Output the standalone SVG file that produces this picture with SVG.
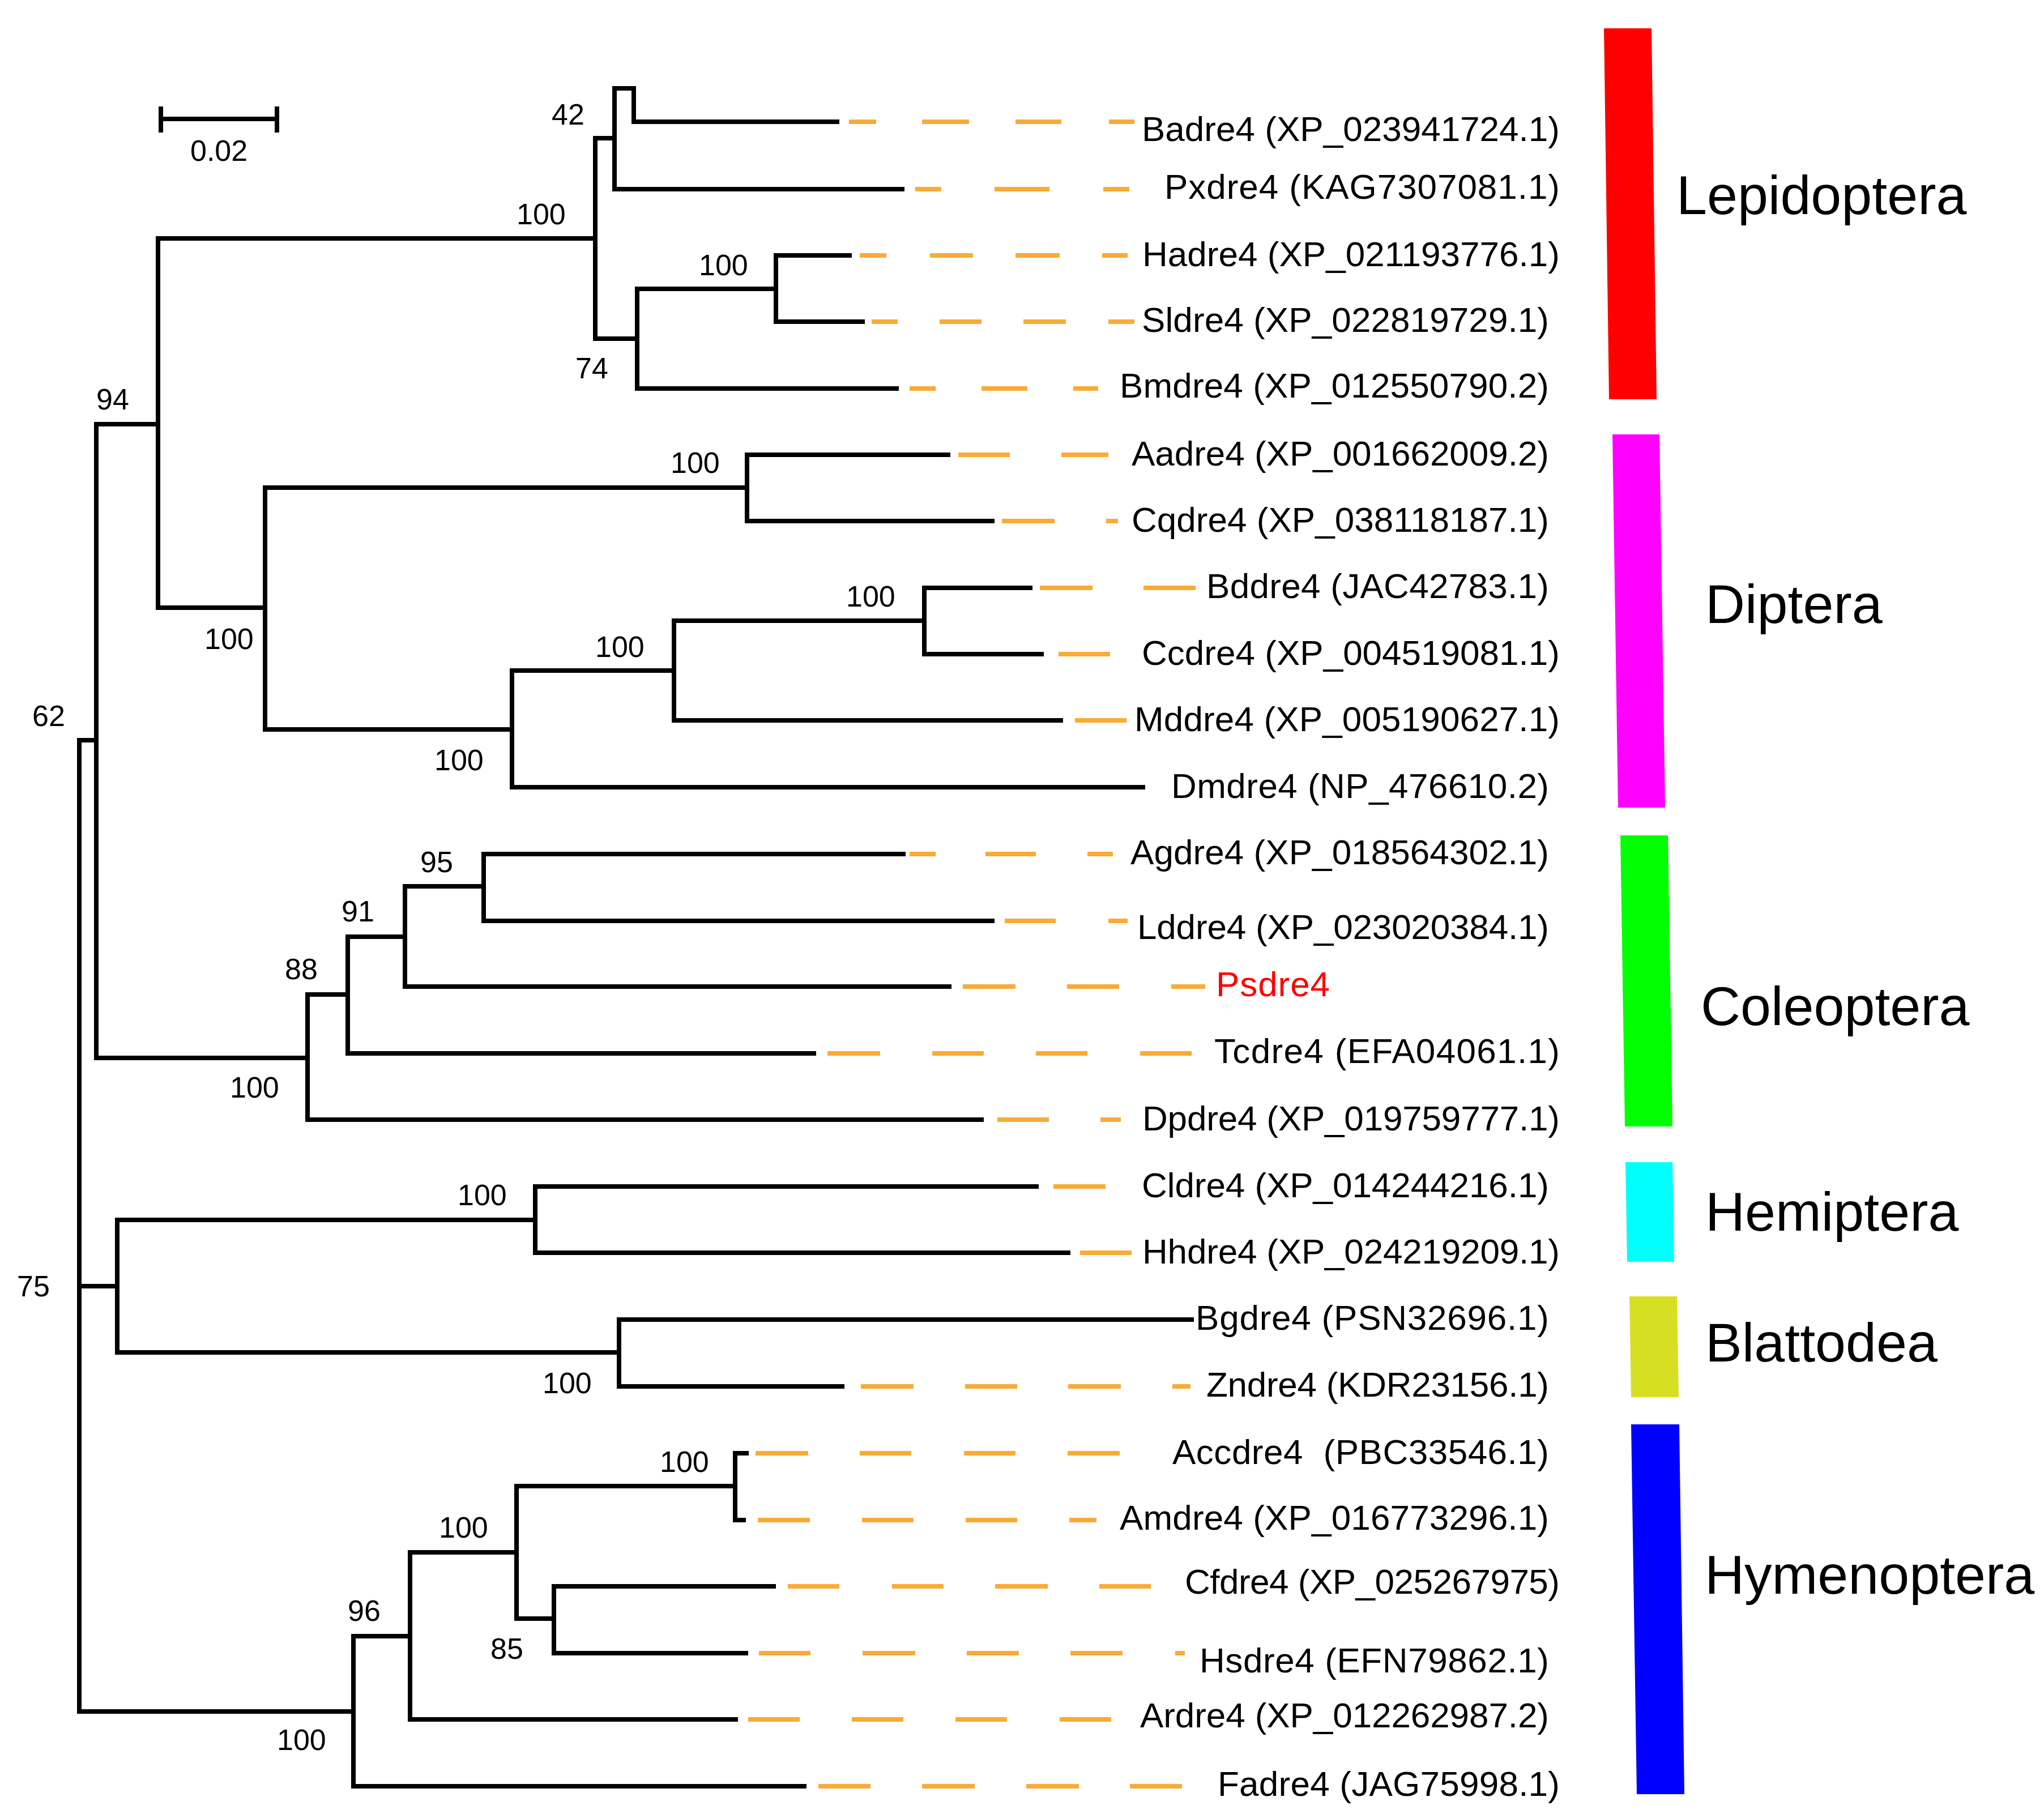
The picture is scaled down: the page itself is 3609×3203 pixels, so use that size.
<svg xmlns="http://www.w3.org/2000/svg" width="3609" height="3203" viewBox="0 0 3609 3203">
<style>
.br{fill:none;stroke:#000;stroke-width:8;stroke-linejoin:miter;stroke-linecap:butt}
.dash{stroke:#F9AB36;stroke-width:8;stroke-linecap:butt}
.leaf{font-family:"Liberation Sans",Arial,sans-serif;font-size:62px;fill:#000}
.num{font-family:"Liberation Sans",Arial,sans-serif;font-size:52px;fill:#000}
.ord{font-family:"Liberation Sans",Arial,sans-serif;font-size:97px;fill:#000}
</style>
<rect width="3609" height="3203" fill="#fff"/>
<g id="connectors">
<g id="branches" class="br">
<path d="M284 210 H489 M284 188 V234 M489 188 V234"/>
<path d="M170 1307 H140 V3022 H624"/>
<path d="M140 2271 H207"/>
<path d="M279 749 H170 V1868 H543"/>
<path d="M1051 421 H279 V1073 H468"/>
<path d="M1085 244 H1051 V598 H1125"/>
<path d="M1597 334 H1085 V156 H1119 V215 H1482"/>
<path d="M1370 510 H1125 V686 H1587"/>
<path d="M1504 451 H1370 V568 H1527"/>
<path d="M1319 861 H468 V1288 H904"/>
<path d="M1678 803 H1319 V920 H1756"/>
<path d="M1190 1184 H904 V1390 H2022"/>
<path d="M1632 1096 H1190 V1272 H1877"/>
<path d="M1823 1038 H1632 V1155 H1843"/>
<path d="M614 1756 H543 V1977 H1737"/>
<path d="M715 1654 H614 V1860 H1441"/>
<path d="M854 1565 H715 V1742 H1680"/>
<path d="M1599 1508 H854 V1626 H1756"/>
<path d="M945 2154 H207 V2388 H1093"/>
<path d="M1834 2095 H945 V2212 H1890"/>
<path d="M2108 2330 H1093 V2448 H1491"/>
<path d="M724 2889 H624 V3154 H1424"/>
<path d="M912 2741 H724 V3036 H1303"/>
<path d="M1298 2624 H912 V2858 H978"/>
<path d="M1322 2566 H1298 V2684 H1317"/>
<path d="M1370 2801 H978 V2919 H1321"/>
</g>
<g id="dashes" class="dash">
<path d="M1499 215 H1547 M1628 215 H1711 M1793 215 H1874 M1958 215 H2003"/>
<path d="M1616 334 H1662 M1756 334 H1853 M1948 334 H1994"/>
<path d="M1518 451 H1565 M1642 451 H1718 M1793 451 H1871 M1946 451 H1991"/>
<path d="M1539 568 H1585 M1659 568 H1733 M1807 568 H1882 M1957 568 H2003"/>
<path d="M1606 686 H1652 M1733 686 H1814 M1895 686 H1939"/>
<path d="M1692 803 H1783 M1874 803 H1957"/>
<path d="M1769 920 H1862 M1953 920 H1974"/>
<path d="M1836 1038 H1929 M2019 1038 H2111"/>
<path d="M1869 1155 H1960"/>
<path d="M1898 1272 H1989"/>
<path d="M1606 1508 H1652 M1740 1508 H1829 M1920 1508 H1965"/>
<path d="M1774 1626 H1864 M1957 1626 H1991"/>
<path d="M1700 1742 H1793 M1884 1742 H1976 M2068 1742 H2128"/>
<path d="M1461 1860 H1554 M1646 1860 H1737 M1829 1860 H1920 M2013 1860 H2104"/>
<path d="M1761 1977 H1852 M1943 1977 H1979"/>
<path d="M1860 2095 H1952"/>
<path d="M1907 2212 H1998"/>
<path d="M1520 2448 H1613 M1704 2448 H1796 M1886 2448 H1979 M2070 2448 H2102"/>
<path d="M1334 2566 H1427 M1518 2566 H1609 M1702 2566 H1793 M1885 2566 H1977"/>
<path d="M1338 2684 H1430 M1522 2684 H1613 M1705 2684 H1796 M1888 2684 H1936"/>
<path d="M1391 2801 H1482 M1575 2801 H1666 M1757 2801 H1850 M1941 2801 H2032"/>
<path d="M1340 2919 H1431 M1523 2919 H1616 M1707 2919 H1799 M1890 2919 H1982 M2075 2919 H2092"/>
<path d="M1321 3036 H1412 M1504 3036 H1595 M1687 3036 H1778 M1871 3036 H1962"/>
<path d="M1445 3154 H1537 M1628 3154 H1721 M1812 3154 H1905 M1995 3154 H2087"/>
</g>
</g>
<g id="support-labels" class="num">
<text x="336" y="284">0.02</text>
<text x="974" y="220">42</text>
<text x="912" y="396">100</text>
<text x="1234" y="486">100</text>
<text x="1016" y="668">74</text>
<text x="170" y="723">94</text>
<text x="1184" y="835">100</text>
<text x="361" y="1146">100</text>
<text x="1494" y="1071">100</text>
<text x="1051" y="1160">100</text>
<text x="767" y="1360">100</text>
<text x="57" y="1282">62</text>
<text x="742" y="1540">95</text>
<text x="603" y="1627">91</text>
<text x="503" y="1729">88</text>
<text x="406" y="1938">100</text>
<text x="808" y="2128">100</text>
<text x="30" y="2289">75</text>
<text x="958" y="2460">100</text>
<text x="1165" y="2599">100</text>
<text x="775" y="2715">100</text>
<text x="614" y="2862">96</text>
<text x="866" y="2929">85</text>
<text x="489" y="3090">100</text>
</g>
<g id="leaf-Badre4"><text class="leaf" x="2016" y="249" textLength="738">Badre4 (XP_023941724.1)</text></g>
<g id="leaf-Pxdre4"><text class="leaf" x="2056" y="351" textLength="698">Pxdre4 (KAG7307081.1)</text></g>
<g id="leaf-Hadre4"><text class="leaf" x="2017" y="470" textLength="737">Hadre4 (XP_021193776.1)</text></g>
<g id="leaf-Sldre4"><text class="leaf" x="2016" y="586" textLength="719">Sldre4 (XP_022819729.1)</text></g>
<g id="leaf-Bmdre4"><text class="leaf" x="1977" y="702" textLength="758">Bmdre4 (XP_012550790.2)</text></g>
<g id="leaf-Aadre4"><text class="leaf" x="1998" y="822" textLength="737">Aadre4 (XP_001662009.2)</text></g>
<g id="leaf-Cqdre4"><text class="leaf" x="1998" y="939" textLength="737">Cqdre4 (XP_038118187.1)</text></g>
<g id="leaf-Bddre4"><text class="leaf" x="2130" y="1056" textLength="605">Bddre4 (JAC42783.1)</text></g>
<g id="leaf-Ccdre4"><text class="leaf" x="2016" y="1174" textLength="738">Ccdre4 (XP_004519081.1)</text></g>
<g id="leaf-Mddre4"><text class="leaf" x="2003" y="1291" textLength="751">Mddre4 (XP_005190627.1)</text></g>
<g id="leaf-Dmdre4"><text class="leaf" x="2068" y="1409" textLength="667">Dmdre4 (NP_476610.2)</text></g>
<g id="leaf-Agdre4"><text class="leaf" x="1996" y="1526" textLength="739">Agdre4 (XP_018564302.1)</text></g>
<g id="leaf-Lddre4"><text class="leaf" x="2008" y="1658" textLength="727">Lddre4 (XP_023020384.1)</text></g>
<g id="leaf-Psdre4"><text class="leaf" x="2147" y="1759" textLength="201" fill="#FF0000" style="fill:#FF0000">Psdre4</text></g>
<g id="leaf-Tcdre4"><text class="leaf" x="2144" y="1877" textLength="610">Tcdre4 (EFA04061.1)</text></g>
<g id="leaf-Dpdre4"><text class="leaf" x="2017" y="1996" textLength="737">Dpdre4 (XP_019759777.1)</text></g>
<g id="leaf-Cldre4"><text class="leaf" x="2016" y="2114" textLength="719">Cldre4 (XP_014244216.1)</text></g>
<g id="leaf-Hhdre4"><text class="leaf" x="2017" y="2231" textLength="737">Hhdre4 (XP_024219209.1)</text></g>
<g id="leaf-Bgdre4"><text class="leaf" x="2111" y="2348" textLength="624">Bgdre4 (PSN32696.1)</text></g>
<g id="leaf-Zndre4"><text class="leaf" x="2130" y="2466" textLength="605">Zndre4 (KDR23156.1)</text></g>
<g id="leaf-Accdre4"><text class="leaf" x="2070" y="2585" textLength="665" xml:space="preserve">Accdre4  (PBC33546.1)</text></g>
<g id="leaf-Amdre4"><text class="leaf" x="1977" y="2701" textLength="758">Amdre4 (XP_016773296.1)</text></g>
<g id="leaf-Cfdre4"><text class="leaf" x="2092" y="2814" textLength="662">Cfdre4 (XP_025267975)</text></g>
<g id="leaf-Hsdre4"><text class="leaf" x="2118" y="2953" textLength="617">Hsdre4 (EFN79862.1)</text></g>
<g id="leaf-Ardre4"><text class="leaf" x="2013" y="3050" textLength="722">Ardre4 (XP_012262987.2)</text></g>
<g id="leaf-Fadre4"><text class="leaf" x="2150" y="3171" textLength="604">Fadre4 (JAG75998.1)</text></g>
<g id="order-Lepidoptera"><polygon points="2832,50 2916,50 2925,705 2841,705" fill="#FF0000"/><text class="ord" x="2960" y="378">Lepidoptera</text></g>
<g id="order-Diptera"><polygon points="2847,767 2930,767 2940,1426 2857,1426" fill="#FF00FF"/><text class="ord" x="3011" y="1100">Diptera</text></g>
<g id="order-Coleoptera"><polygon points="2861,1475 2945,1475 2953,1989 2869,1989" fill="#00FF00"/><text class="ord" x="3003" y="1810">Coleoptera</text></g>
<g id="order-Hemiptera"><polygon points="2870,2052 2953,2052 2956,2228 2873,2228" fill="#00FFFF"/><text class="ord" x="3011" y="2173">Hemiptera</text></g>
<g id="order-Blattodea"><polygon points="2877,2289 2961,2289 2964,2467 2880,2467" fill="#D7DF23"/><text class="ord" x="3011" y="2404">Blattodea</text></g>
<g id="order-Hymenoptera"><polygon points="2880,2515 2965,2515 2974,3168 2890,3168" fill="#0000FF"/><text class="ord" x="3010" y="2814">Hymenoptera</text></g>
</svg>
